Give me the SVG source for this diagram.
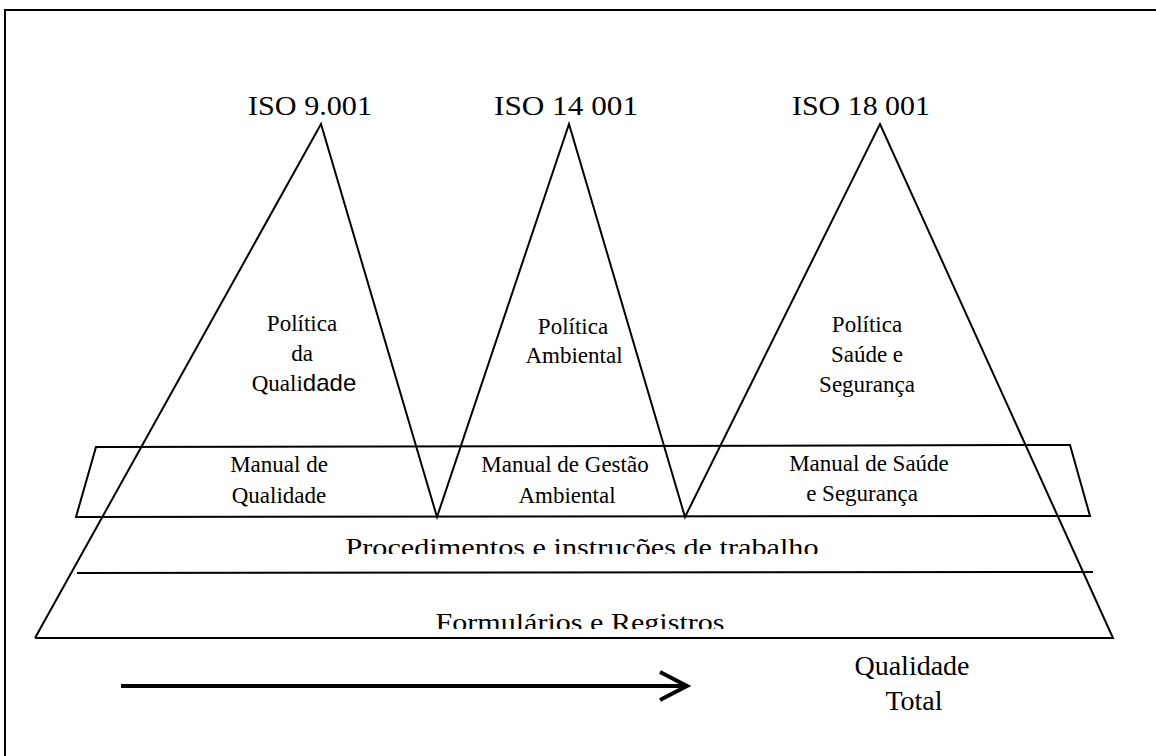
<svg xmlns="http://www.w3.org/2000/svg" width="1156" height="756" viewBox="0 0 1156 756">
  <style>
    .ln { fill: none; stroke: #000; stroke-width: 2; stroke-linejoin: miter; }
    .t { font-family: "Liberation Serif", "Times New Roman", serif; fill: #000; text-anchor: middle; }
    .iso { font-size: 28px; }
    .lbl { font-size: 23px; }
    .band { font-size: 26px; }
  </style>
  <defs>
    <clipPath id="clipProc"><rect x="0" y="520" width="1156" height="34"/></clipPath>
    <clipPath id="clipForm"><rect x="0" y="590" width="1156" height="39"/></clipPath>
  </defs>
  <rect width="1156" height="756" fill="#fff"/>

  <!-- frame -->
  <g id="frame">
    <rect class="ln" x="5" y="10" width="1165" height="760"/>
  </g>

  <!-- connectors / structural lines -->
  <g id="connectors">
    <polyline class="ln" points="35,638 321,124 437,517 569,124 685,517 880,124 1113,638 35,638"/>
    <polygon class="ln" points="96,447 1070,445 1090,516 76,517"/>
    <line class="ln" x1="77" y1="573" x2="1093" y2="572"/>
    <line x1="121" y1="686" x2="686" y2="686" stroke="#000" stroke-width="4"/>
    <polyline points="660,672 687,686 660,700" fill="none" stroke="#000" stroke-width="4" stroke-linejoin="miter"/>
  </g>

  <g id="iso9001">
    <text class="t iso" x="310" y="115" textLength="124" lengthAdjust="spacingAndGlyphs">ISO 9.001</text>
    <text class="t lbl" x="302" y="331">Política</text>
    <text class="t lbl" x="302" y="361">da</text>
    <text class="t lbl" x="304" y="391"><tspan>Quali</tspan><tspan font-family="Liberation Sans, Arial, sans-serif" font-size="24">dade</tspan></text>
  </g>

  <g id="iso14001">
    <text class="t iso" x="566" y="115" textLength="144" lengthAdjust="spacingAndGlyphs">ISO 14 001</text>
    <text class="t lbl" x="573" y="334">Política</text>
    <text class="t lbl" x="574" y="363">Ambiental</text>
  </g>

  <g id="iso18001">
    <text class="t iso" x="861" y="115" textLength="138" lengthAdjust="spacingAndGlyphs">ISO 18 001</text>
    <text class="t lbl" x="867" y="332">Política</text>
    <text class="t lbl" x="867" y="362">Saúde e</text>
    <text class="t lbl" x="867" y="392">Segurança</text>
  </g>

  <g id="manual-qualidade">
    <text class="t lbl" x="279" y="472">Manual de</text>
    <text class="t lbl" x="279" y="503">Qualidade</text>
  </g>

  <g id="manual-gestao">
    <text class="t lbl" x="565" y="472">Manual de Gestão</text>
    <text class="t lbl" x="567" y="503">Ambiental</text>
  </g>

  <g id="manual-saude">
    <text class="t lbl" x="869" y="471">Manual de Saúde</text>
    <text class="t lbl" x="862" y="501">e Segurança</text>
  </g>

  <g id="procedimentos">
    <text class="t band" x="582" y="556" textLength="473" lengthAdjust="spacingAndGlyphs" clip-path="url(#clipProc)">Procedimentos e instruções de trabalho</text>
  </g>

  <g id="formularios">
    <text class="t band" x="580" y="631" textLength="289" lengthAdjust="spacingAndGlyphs" clip-path="url(#clipForm)">Formulários e Registros</text>
  </g>

  <g id="qualidade-total">
    <text class="t" font-size="28" x="912" y="675">Qualidade</text>
    <text class="t" font-size="28" x="914" y="710">Total</text>
  </g>
</svg>
